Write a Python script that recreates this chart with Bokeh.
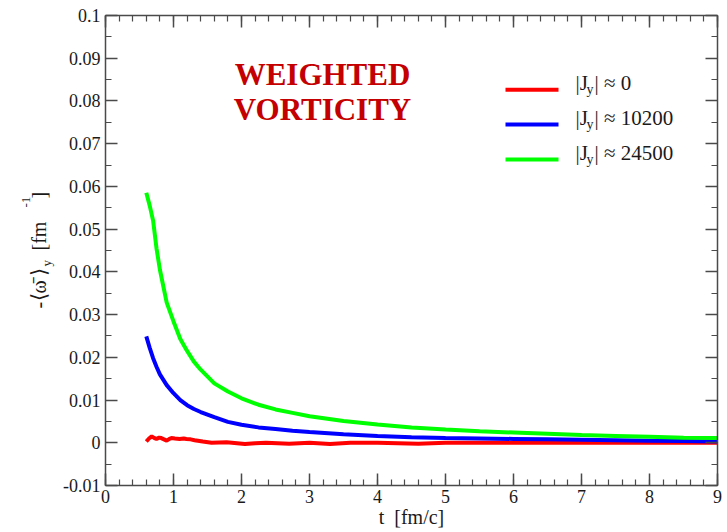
import numpy as np
from bokeh.plotting import figure
from bokeh.layouts import row
from bokeh.models import (Range1d, LinearAxis, FixedTicker, Label, BoxAnnotation,
                          CustomJSTickFormatter)
from bokeh.embed import file_html
from bokeh.resources import INLINE

# ---------------- data ----------------
t_vals = [0.6, 0.65, 0.7, 0.75, 0.8, 0.9, 1.0, 1.1, 1.2, 1.3, 1.4, 1.6, 1.8, 2.0,
          2.25, 2.5, 2.75, 3.0, 3.5, 4.0, 4.5, 5.0, 5.5, 6.0, 6.5, 7.0, 7.5, 8.0, 8.5, 9.0]
green_vals = [0.0585, 0.0555, 0.0520, 0.0455, 0.0405, 0.0328, 0.0284, 0.0243, 0.0215,
              0.0190, 0.0171, 0.0139, 0.0120, 0.0104, 0.0089, 0.0078, 0.0070, 0.0062,
              0.0051, 0.0043, 0.0036, 0.0031, 0.0027, 0.0024, 0.0021, 0.0018, 0.0016,
              0.0014, 0.0012, 0.0011]
blue_vals = [0.0249, 0.0222, 0.0198, 0.0178, 0.0160, 0.0135, 0.0116, 0.0100, 0.0088,
             0.0079, 0.0072, 0.0060, 0.0049, 0.0042, 0.0036, 0.0032, 0.0028, 0.0025,
             0.0020, 0.0016, 0.0013, 0.0011, 0.0010, 0.0009, 0.0008, 0.0007, 0.0006,
             0.0005, 0.0004, 0.0003]
red_t = [0.6, 0.64, 0.68, 0.72, 0.75, 0.79, 0.82, 0.86, 0.9, 0.94, 0.97, 1.02, 1.09,
         1.15, 1.19, 1.25, 1.31, 1.43, 1.56, 1.78, 2.05, 2.2, 2.36, 2.7, 3.0, 3.3, 3.6,
         4.0, 4.6, 5.0, 5.5, 6.0, 7.0, 8.0, 9.0]
red_vals = [0.0003, 0.0010, 0.0015, 0.0011, 0.0009, 0.0012, 0.0011, 0.0008, 0.0005,
            0.0009, 0.0011, 0.0010, 0.0009, 0.0010, 0.0009, 0.0008, 0.0006, 0.0003,
            0.0000, 0.0001, -0.0003, -0.0001, 0.0000, -0.0002, 0.0000, -0.0003, 0.0000,
            0.0000, -0.0002, 0.0000, 0.0000, 0.0000, 0.0000, 0.0000, 0.0000]

series_names = ["≈ 0", "≈ 10200", "≈ 24500"]
series_colors = ["#ff0000", "#0000ff", "#00ff00"]

x_ticks = [0, 1, 2, 3, 4, 5, 6, 7, 8, 9]
x_tick_labels = ["0", "1", "2", "3", "4", "5", "6", "7", "8", "9"]
y_ticks = [-0.01, 0.0, 0.01, 0.02, 0.03, 0.04, 0.05, 0.06, 0.07, 0.08, 0.09, 0.1]
y_tick_labels = ["-0.01", "0", "0.01", "0.02", "0.03", "0.04", "0.05", "0.06",
                 "0.07", "0.08", "0.09", "0.1"]

# ---------------- figure ----------------
SERIF = "Liberation Serif"
AXIS_COL = "#4a4a4a"
TXT_COL = "#1a1a1a"
SIDE_W = 60

p = figure(width=727 - SIDE_W, height=532, x_range=Range1d(0, 9), y_range=Range1d(-0.01, 0.1),
           output_backend="svg", toolbar_location=None,
           min_border_left=102 - SIDE_W, min_border_right=10, min_border_top=15,
           min_border_bottom=47, x_axis_location=None, y_axis_location=None)
p.xgrid.visible = False
p.ygrid.visible = False
p.outline_line_color = None
p.background_fill_color = "white"
p.border_fill_color = "white"

x_minor = list(np.round(np.arange(0, 9.0001, 0.2), 3))
y_minor = list(np.round(np.arange(-0.01, 0.10001, 0.005), 4))


def style_axis(ax, labelled):
    ax.axis_line_color = AXIS_COL
    ax.axis_line_width = 1.5
    ax.major_tick_line_color = AXIS_COL
    ax.minor_tick_line_color = AXIS_COL
    ax.major_tick_line_width = 1.5
    ax.minor_tick_line_width = 1.2
    ax.major_tick_in = 12
    ax.major_tick_out = 0
    ax.minor_tick_in = 6
    ax.minor_tick_out = 0
    if labelled:
        ax.major_label_text_font = SERIF
        ax.major_label_text_font_size = "18px"
        ax.major_label_text_color = TXT_COL
        ax.major_label_standoff = 4
    else:
        ax.formatter = CustomJSTickFormatter(code="return ''")
        ax.major_label_text_font_size = "0px"
        ax.major_label_standoff = 0


xb = LinearAxis(ticker=FixedTicker(ticks=x_ticks, minor_ticks=x_minor),
                major_label_overrides=dict(zip(x_ticks, x_tick_labels)))
style_axis(xb, True)
xb.axis_label = "t\u00a0\u00a0[fm/c]"
xb.axis_label_text_font = SERIF
xb.axis_label_text_font_size = "20px"
xb.axis_label_text_font_style = "normal"
xb.axis_label_text_color = TXT_COL
xb.axis_label_standoff = 0
p.add_layout(xb, "below")
xt = LinearAxis(ticker=FixedTicker(ticks=x_ticks, minor_ticks=x_minor))
style_axis(xt, False)
p.add_layout(xt, "above")
yl = LinearAxis(ticker=FixedTicker(ticks=y_ticks, minor_ticks=y_minor),
                major_label_overrides=dict(zip(y_ticks, y_tick_labels)))
style_axis(yl, True)
yl.major_label_standoff = 5
p.add_layout(yl, "left")
yr = LinearAxis(ticker=FixedTicker(ticks=y_ticks, minor_ticks=y_minor))
style_axis(yr, False)
p.add_layout(yr, "right")

# ---------------- curves ----------------
p.line(red_t, red_vals, line_color=series_colors[0], line_width=4)
p.line(t_vals, blue_vals, line_color=series_colors[1], line_width=4)
p.line(t_vals, green_vals, line_color=series_colors[2], line_width=4)


# ---------------- annotations (screen units, relative to frame) ----------------
def lab(fig, x, y, text, size, angle=0.0, color=TXT_COL, bold=False, align="left"):
    fig.add_layout(Label(x=x, y=y, x_units="screen", y_units="screen", text=text,
                         text_font=SERIF, text_font_size=size, text_color=color,
                         text_font_style="bold" if bold else "normal",
                         text_align=align, text_baseline="alphabetic", angle=angle,
                         level="overlay"))


TITLE_COL = "#c40000"
lab(p, 217, 411, "WEIGHTED", "31px", color=TITLE_COL, bold=True, align="center")
lab(p, 217, 376, "VORTICITY", "31px", color=TITLE_COL, bold=True, align="center")

# legend
row_line = [395.7, 361.0, 326.0]
row_base = [403.0, 368.0, 333.0]
for i in range(3):
    p.add_layout(BoxAnnotation(left=400, right=453, bottom=row_line[i] - 2, top=row_line[i] + 2,
                               left_units="screen", right_units="screen",
                               bottom_units="screen", top_units="screen",
                               fill_color=series_colors[i], fill_alpha=1.0,
                               line_color=None, level="overlay"))
    lab(p, 470, row_base[i], "|J", "21px")
    lab(p, 481, row_base[i] - 7, "y", "14px")
    lab(p, 489, row_base[i], "| " + series_names[i], "21px")

# ---------------- side panel carrying the rotated y axis title ----------------
# (its frame is aligned with the main frame by the row layout)
side = figure(width=SIDE_W, height=532, x_range=Range1d(0, 1), y_range=Range1d(0, 1),
              output_backend="svg", toolbar_location=None,
              min_border_left=0, min_border_right=0, min_border_top=0, min_border_bottom=0,
              x_axis_location=None, y_axis_location=None)
side.xgrid.visible = False
side.ygrid.visible = False
side.outline_line_color = None
side.background_fill_color = "white"
side.border_fill_color = "white"

rot = np.pi / 2
lab(side, 38, 177, "-", "20px", angle=rot)
lab(side, 38, 185, "⟨", "21px", angle=rot)
lab(side, 38, 192, "ω\u0304", "20px", angle=rot)
lab(side, 38, 210, "⟩", "21px", angle=rot)
lab(side, 46, 219, "y", "13px", angle=rot)
lab(side, 38, 235, "[fm", "20px", angle=rot)
lab(side, 25, 278, "-1", "13px", angle=rot)
lab(side, 38, 287, "]", "20px", angle=rot)

layout = row(side, p, spacing=0)
open("out.html", "w").write(file_html(layout, INLINE))
